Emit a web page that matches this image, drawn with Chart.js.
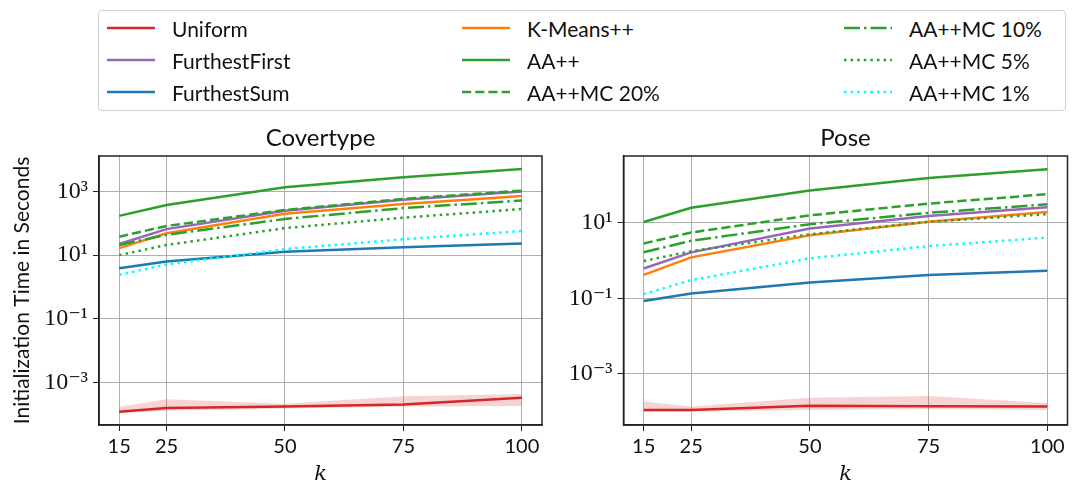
<!DOCTYPE html>
<html>
<head>
<meta charset="utf-8">
<script src="https://cdn.jsdelivr.net/npm/chart.js@4.4.1/dist/chart.umd.min.js"></script>
<style>
  body { margin: 0; background: #fff; width: 1086px; height: 485px; position: relative; overflow: hidden; font-family: Lato, sans-serif; }
  #legend { position: absolute; left: 98px; top: 10px; width: 968px; height: 101px; border: 1px solid #d0d0d0; border-radius: 4px; box-sizing: border-box; }
  .item { position: absolute; height: 24px; display: flex; align-items: center; font-size: 21px; color: #111; white-space: nowrap; }
  .item canvas { margin-right: 17px; }
  canvas.chart { position: absolute; top: 120px; }
</style>
</head>
<body>
<div id="legend"></div>
<canvas id="cov" class="chart" width="560" height="365" style="left:0"></canvas>
<canvas id="pose" class="chart" width="526" height="365" style="left:560px"></canvas>
<script>
// ---------- data ----------
const kValues = [15, 25, 50, 75, 100];
const xTicks = [15, 25, 50, 75, 100];

// Covertype
const covUniform      = [1.17e-4, 1.55e-4, 1.74e-4, 2.0e-4, 3.24e-4];
const covUniformHigh  = [1.7e-4, 2.9e-4, 2.1e-4, 3.6e-4, 4.3e-4];
const covUniformLow   = [1.05e-4, 1.26e-4, 1.5e-4, 1.7e-4, 1.8e-4];
const covFurthestFirst = [22.4, 66, 251, 550, 1000];
const covFurthestSum  = [3.9, 6.3, 12.9, 17.8, 23.4];
const covKMeans       = [16.6, 49, 200, 407, 724];
const covAA           = [172, 380, 1380, 2820, 5130];
const covMC20         = [38, 83, 263, 589, 1070];
const covMC10         = [20.9, 43.6, 138, 302, 525];
const covMC5          = [10, 20.9, 70.8, 151, 282];
const covMC1          = [2.4, 5.1, 15.5, 31.6, 57.5];
const covYTicks = [1e-3, 1e-1, 1e1, 1e3];

// Pose
const poseUniform      = [1.12e-4, 1.12e-4, 1.45e-4, 1.41e-4, 1.38e-4];
const poseUniformHigh  = [1.86e-4, 1.38e-4, 2.34e-4, 2.63e-4, 1.7e-4];
const poseUniformLow   = [1.0e-4, 1.0e-4, 1.12e-4, 1.17e-4, 1.12e-4];
const poseFurthestFirst = [0.62, 1.66, 7.1, 15.1, 26];
const poseFurthestSum  = [0.085, 0.135, 0.266, 0.417, 0.537];
const poseKMeans       = [0.42, 1.22, 4.73, 10.7, 19.5];
const poseAA           = [10.5, 25.1, 72.4, 155, 263];
const poseMC20         = [2.85, 5.56, 15.8, 32.4, 57.5];
const poseMC10         = [1.66, 3.35, 9.2, 18.4, 30.9];
const poseMC5          = [0.98, 1.78, 5.0, 10.7, 17];
const poseMC1          = [0.13, 0.305, 1.15, 2.43, 4.07];
const poseYTicks = [1e-3, 1e-1, 1e1];

// ---------- styles ----------
const LW = 2.5;
const series = [
  { label: 'Uniform',       color: '#d62728', dash: [] },
  { label: 'FurthestFirst', color: '#9467bd', dash: [] },
  { label: 'FurthestSum',   color: '#1f77b4', dash: [] },
  { label: 'K-Means++',     color: '#ff7f0e', dash: [] },
  { label: 'AA++',          color: '#2ca02c', dash: [] },
  { label: 'AA++MC 20%',    color: '#2ca02c', dash: [9.2, 4] },
  { label: 'AA++MC 10%',    color: '#2ca02c', dash: [16, 4, 2.5, 4] },
  { label: 'AA++MC 5%',     color: '#2ca02c', dash: [2.5, 4.1] },
  { label: 'AA++MC 1%',     color: '#00ffff', dash: [2.5, 4.1] }
];

// ---------- legend ----------
const legendEl = document.getElementById('legend');
const colX = [8, 363, 745];
const rowY = [5, 37, 69];
series.forEach((s, i) => {
  const col = Math.floor(i / 3), row = i % 3;
  const div = document.createElement('div');
  div.className = 'item';
  div.style.left = colX[col] + 'px';
  div.style.top = rowY[row] + 'px';
  const c = document.createElement('canvas');
  c.width = 48; c.height = 10;
  const g = c.getContext('2d');
  g.strokeStyle = s.color; g.lineWidth = LW; g.setLineDash(s.dash);
  g.beginPath(); g.moveTo(0, 5); g.lineTo(48, 5); g.stroke();
  div.appendChild(c);
  div.appendChild(document.createTextNode(s.label));
  legendEl.appendChild(div);
});

// ---------- charts ----------
const SUP = { '0': '⁰', '1': '¹', '2': '²', '3': '³', '4': '⁴', '5': '⁵', '-': '⁻' };
function sup(n) { return String(n).split('').map(ch => SUP[ch]).join(''); }

const frame = {
  id: 'frame',
  afterDatasetsDraw(chart) {
    const a = chart.chartArea, ctx = chart.ctx;
    ctx.save();
    ctx.strokeStyle = '#222';
    ctx.lineWidth = 1.5;
    ctx.strokeRect(a.left, a.top, a.right - a.left, a.bottom - a.top);
    ctx.restore();
  }
};

function pts(vals) { return kValues.map((k, i) => ({ x: k, y: vals[i] })); }

function makeChart(id, title, d, opt) {
  const lines = [d.uniform, d.ff, d.fs, d.km, d.aa, d.mc20, d.mc10, d.mc5, d.mc1];
  const datasets = [
    { label: 'band-high', data: pts(d.high), borderWidth: 0, pointRadius: 0, fill: '+1',
      backgroundColor: 'rgba(214,39,40,0.2)', order: 20 },
    { label: 'band-low', data: pts(d.low), borderWidth: 0, pointRadius: 0, fill: false, order: 19 }
  ];
  series.forEach((s, i) => {
    datasets.push({
      label: s.label, data: pts(lines[i]), borderColor: s.color, borderWidth: LW,
      borderDash: s.dash, borderCapStyle: 'butt',
      pointRadius: 0, tension: 0, fill: false, order: 10 - i
    });
  });

  return new Chart(document.getElementById(id), {
    type: 'line',
    data: { datasets },
    plugins: [frame],
    options: {
      responsive: false,
      animation: false,
      devicePixelRatio: 1,
      layout: { padding: { left: 0, right: opt.padRight, top: 0, bottom: 0 } },
      plugins: {
        legend: { display: false },
        tooltip: { enabled: false },
        title: {
          display: true, text: title, fullSize: false, color: '#111',
          font: { family: 'Lato', size: 24, weight: 'normal', lineHeight: 1.2 },
          padding: { top: 4, bottom: 3.2 }
        }
      },
      scales: {
        x: {
          type: 'linear', min: 10.75, max: 104.25,
          afterBuildTicks: s => { s.ticks = xTicks.map(v => ({ value: v })); },
          afterFit: s => { s.height = 60; },
          grid: { color: '#b0b0b0', lineWidth: 1, tickColor: '#222', tickLength: 6 },
          border: { color: '#222', width: 1.5 },
          ticks: { color: '#111', padding: 4, maxRotation: 0, font: { family: 'Lato', size: 20 } },
          title: { display: true, text: 'k', color: '#111', padding: 0,
                   font: { family: 'DejaVu Serif', style: 'italic', size: 21, lineHeight: 1 } }
        },
        y: {
          type: 'logarithmic', min: opt.yMin, max: opt.yMax,
          afterBuildTicks: s => { s.ticks = opt.yTicks.map(v => ({ value: v })); },
          afterFit: s => { s.width = opt.yWidth; },
          grid: { color: '#b0b0b0', lineWidth: 1, tickColor: '#222', tickLength: 6 },
          border: { color: '#222', width: 1.5 },
          ticks: {
            color: '#111', padding: 5,
            font: { family: '"Liberation Serif", "DejaVu Serif", serif', size: 24 },
            callback: v => '10' + sup(Math.round(Math.log10(v)))
          },
          title: {
            display: opt.yTitle, text: 'Initialization Time in Seconds', color: '#111',
            padding: { top: 10, bottom: 0 },
            font: { family: 'Lato', size: 21, lineHeight: 1.2 }
          }
        }
      }
    }
  });
}

makeChart('cov', 'Covertype', {
  uniform: covUniform, high: covUniformHigh, low: covUniformLow, ff: covFurthestFirst,
  fs: covFurthestSum, km: covKMeans, aa: covAA, mc20: covMC20, mc10: covMC10, mc5: covMC5, mc1: covMC1
}, { yMin: Math.pow(10, -4.345), yMax: Math.pow(10, 4.12), yTicks: covYTicks, yWidth: 99, padRight: 18, yTitle: true });

makeChart('pose', 'Pose', {
  uniform: poseUniform, high: poseUniformHigh, low: poseUniformLow, ff: poseFurthestFirst,
  fs: poseFurthestSum, km: poseKMeans, aa: poseAA, mc20: poseMC20, mc10: poseMC10, mc5: poseMC5, mc1: poseMC1
}, { yMin: Math.pow(10, -4.35), yMax: Math.pow(10, 2.77), yTicks: poseYTicks, yWidth: 63.5, padRight: 18.5, yTitle: false });
</script>
</body>
</html>
